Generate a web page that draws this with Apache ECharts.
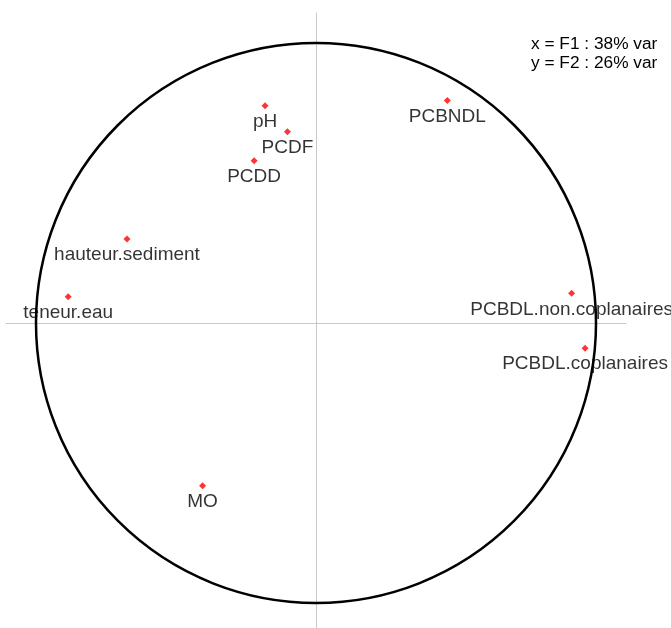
<!DOCTYPE html>
<html>
<head>
<meta charset="utf-8">
<script src="https://cdn.jsdelivr.net/npm/echarts@6/dist/echarts.min.js"></script>
<style>
  html, body { margin: 0; padding: 0; background: #fff; }
  #chart { width: 671px; height: 628px; }
</style>
</head>
<body>
<div id="chart"></div>
<script>
  // correlation circle, F1 x F2
  const variables = ['pH', 'PCDF', 'PCDD', 'PCBNDL', 'hauteur.sediment', 'teneur.eau',
    'PCBDL.non.coplanaires', 'PCBDL.coplanaires', 'MO'];
  const f1 = [-0.182, -0.102, -0.221, 0.469, -0.675, -0.885, 0.913, 0.961, -0.405];
  const f2 = [0.776, 0.683, 0.579, 0.795, 0.300, 0.094, 0.106, -0.090, -0.581];
  const axisInfo = ['x = F1 : 38% var', 'y = F2 : 26% var'];

  const FONT = 'Arial, "Liberation Sans", sans-serif';

  let myChart = echarts.init(document.getElementById('chart'));

  const plainAxis = (min, max) => ({
    type: 'value',
    min: min,
    max: max,
    axisLine: { show: true, onZero: true, lineStyle: { color: '#c8c8c8', width: 1 } },
    axisTick: { show: false },
    axisLabel: { show: false },
    splitLine: { show: false }
  });

  let option = {
    animation: false,
    backgroundColor: '#ffffff',
    title: {
      text: axisInfo.join('\n'),
      left: 531,
      top: 35,
      padding: 0,
      textStyle: { fontFamily: FONT, fontSize: 17.3, fontWeight: 'normal', color: '#000', lineHeight: 18.7 }
    },
    grid: { left: 6, top: 13, width: 620, height: 615 },
    xAxis: plainAxis(-1.1071, 1.1071),
    yAxis: plainAxis(-1.0893, 1.1071),
    series: [
      {
        type: 'scatter',
        z: 2,
        symbol: 'diamond',
        symbolSize: 7,
        itemStyle: { color: '#ff0000' },
        label: {
          show: true,
          position: 'bottom',
          distance: 3,
          formatter: p => p.name,
          fontFamily: FONT,
          fontSize: 19,
          color: '#000'
        },
        data: variables.map((n, i) => ({ name: n, value: [f1[i], f2[i]] }))
      },
      {
        type: 'custom',
        z: 3,
        silent: true,
        renderItem: function (params, api) {
          const c = api.coord([api.value(0), api.value(1)]);
          const r = api.size([1, 0])[0];
          return {
            type: 'circle',
            shape: { cx: c[0], cy: c[1], r: r },
            style: { fill: 'none', stroke: '#000', lineWidth: 2.5 }
          };
        },
        data: [[0, 0]]
      }
    ]
  };
  option && myChart.setOption(option);
</script>
</body>
</html>
